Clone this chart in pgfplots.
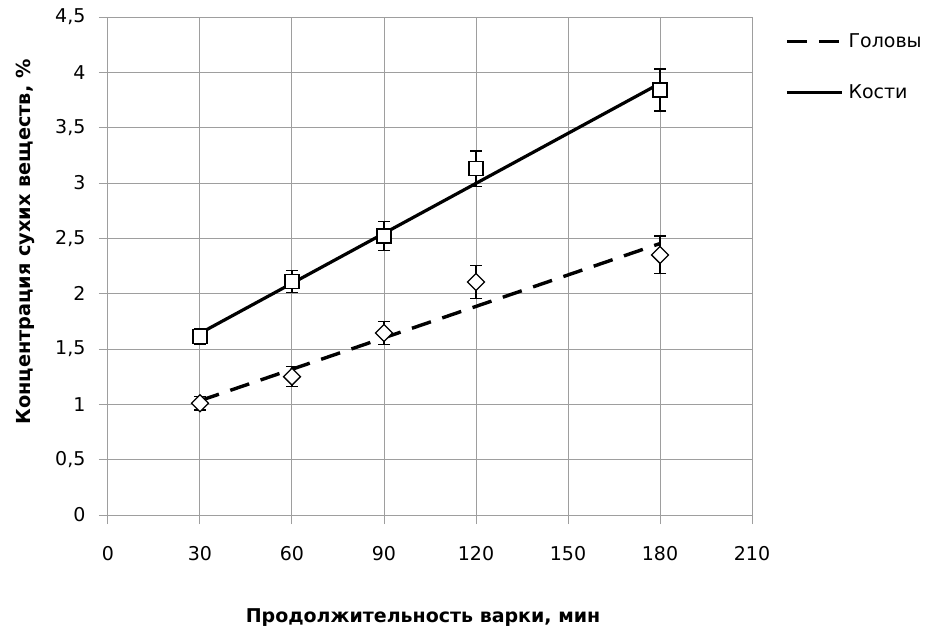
\documentclass[border=0pt]{standalone}
\usepackage{pgfplots}
\pgfplotsset{compat=1.18}
\usetikzlibrary{calc}
\usepackage{fontspec}
\setmainfont{DejaVu Sans}
\begin{document}
\begin{tikzpicture}
\path[use as bounding box] (-108pt,-112pt) rectangle (822pt,515pt);
\begin{axis}[
  at={(0pt,0pt)}, anchor=south west,
  scale only axis, width=644pt, height=498pt,
  xmin=0, xmax=210, ymin=0, ymax=4.5,
  xtick={0,30,...,210}, ytick={0,0.5,1,1.5,2,2.5,3,3.5,4,4.5},
  axis lines*=left,
  axis line style={color=black!38, line width=1pt},
  grid=major,
  major grid style={color=black!38, line width=1pt},
  tick align=outside, major tick length=9pt,
  tick style={color=black!38, line width=1pt},
  /pgf/number format/assume math mode=true,
  /pgf/number format/use comma,
  /pgf/number format/1000 sep={},
  ticklabel style={font=\fontsize{19}{22}\selectfont, text=black},
  yticklabel style={xshift=-10pt},
  xticklabel style={yshift=-19pt},
  xlabel={Продолжительность варки, мин},
  ylabel={Концентрация сухих веществ, \%},
  xlabel style={font=\bfseries\fontsize{19}{22}\selectfont, at={($(rel axis cs:0.5,0)+(-7pt,-107pt)$)}, anchor=base},
  ylabel style={font=\bfseries\fontsize{19.3}{22}\selectfont, at={($(rel axis cs:0,0.5)+(-83pt,24pt)$)}, anchor=center},
  legend style={at={(rel axis cs:1.0512,0.967)}, anchor=north west, draw=none, fill=none,
    font=\fontsize{19}{22}\selectfont, row sep=36pt, inner sep=0pt, nodes={inner xsep=5pt, inner ysep=0pt}},
  legend cell align=left,
  legend image code/.code={\draw[#1] (0pt,0pt) -- (55pt,0pt);},
  clip=false,
]
% markers with error bars
\addplot[forget plot, only marks, mark=square*, mark size=7pt,
  mark options={fill=white, draw=black, line width=1.3pt},
  error bars/.cd, y dir=both, y explicit,
  error bar style={line width=1.3pt, black},
  error mark options={rotate=90, mark size=6pt, line width=1.3pt, black}]
coordinates {
 (30,1.61) +- (0,0.07)
 (60,2.11) +- (0,0.10)
 (90,2.52) +- (0,0.13)
 (120,3.13) +- (0,0.16)
 (180,3.84) +- (0,0.19)
};
\addplot[forget plot, only marks, mark=square*, mark size=6pt,
  mark options={fill=white, draw=black, line width=1.3pt, rotate=45},
  error bars/.cd, y dir=both, y explicit,
  error bar style={line width=1.3pt, black},
  error mark options={rotate=90, mark size=6pt, line width=1.3pt, black}]
coordinates {
 (30,1.01) +- (0,0.06)
 (60,1.25) +- (0,0.09)
 (90,1.645) +- (0,0.105)
 (120,2.105) +- (0,0.15)
 (180,2.35) +- (0,0.17)
};
% fit lines
\addplot[black, line width=3.4pt, dash pattern=on 20pt off 12pt, no marks]
coordinates {(30,1.033) (180,2.453)};
\addlegendentry{Головы}
\addplot[black, line width=3.2pt, no marks]
coordinates {(30,1.642) (180,3.900)};
\addlegendentry{Кости}
\end{axis}
\end{tikzpicture}
\end{document}
